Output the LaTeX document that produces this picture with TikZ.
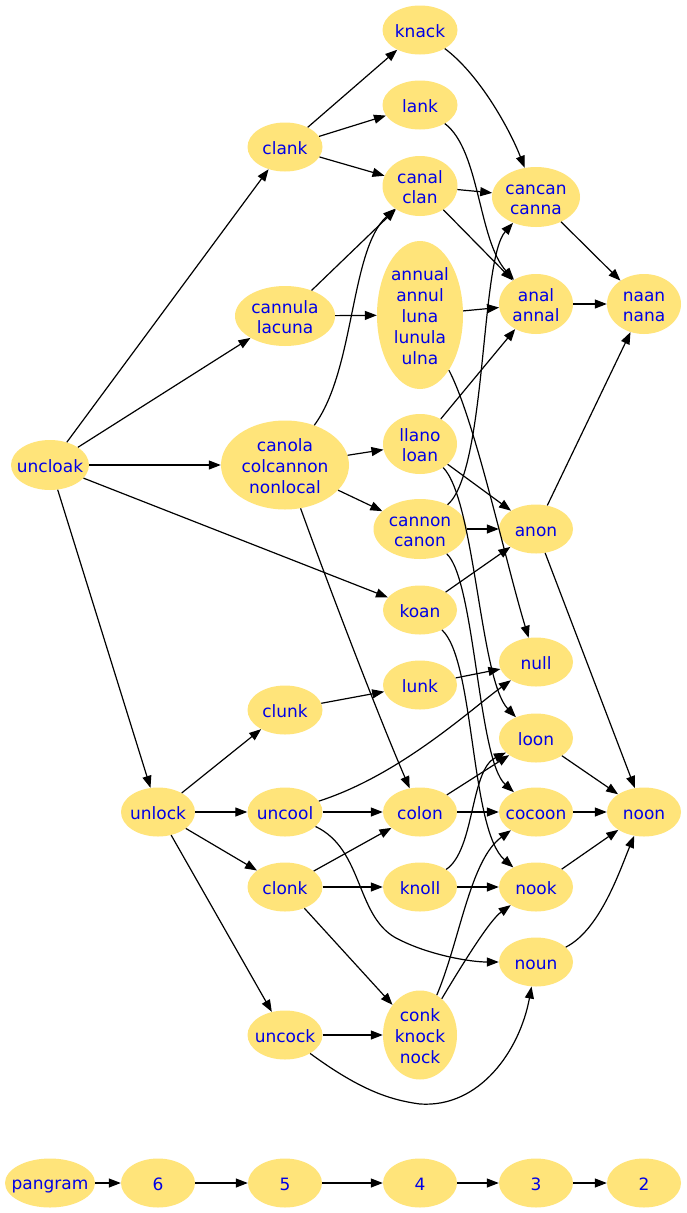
\documentclass[tikz,border=0pt]{standalone}
\usepackage{fontspec}
\setmainfont{DejaVu Sans}
\usetikzlibrary{shapes.geometric,arrows.meta}
\definecolor{nodefill}{RGB}{255,228,122}
\definecolor{nodetext}{RGB}{0,0,230}
\newcommand\mystrut{\rule[-2pt]{0pt}{19pt}}
\newcommand\wn[6]{%
  \node[blob,minimum width=#4pt,minimum height=#5pt] (#1) at (#2,#3) {};
  \node[txt] (#1-t) at (#1.center) {\mystrut#6\mystrut};}
\begin{document}
\begin{tikzpicture}[x=1pt,y=-1pt,
  blob/.style={ellipse,fill=nodefill,draw=none,inner sep=0pt},
  txt/.style={text=nodetext,font=\fontsize{17}{20.8}\selectfont,align=center,inner sep=0pt},
  edge/.style={draw=black,line width=1.2pt,-{Triangle[length=12pt,width=9pt]}}]
\useasboundingbox (0,0) rectangle (687,1213);
\fill[white] (0,0) rectangle (687,1213);
\wn{knack}{420}{30}{75}{49}{knack}
\wn{lank}{420}{105}{75}{49}{lank}
\wn{clank}{285}{147}{75}{49}{clank}
\wn{canal}{420}{186}{75}{60}{canal\\clan}
\wn{cancan}{536}{197}{88}{60}{cancan\\canna}
\wn{annual}{420}{315}{86}{148}{annual\\annul\\luna\\lunula\\ulna}
\wn{cannula}{285}{316}{100}{60}{cannula\\lacuna}
\wn{anal}{536}{304}{74}{60}{anal\\annal}
\wn{naan}{644}{304}{74}{60}{naan\\nana}
\wn{uncloak}{50}{465}{78}{50}{uncloak}
\wn{canola}{285}{465}{128}{89}{canola\\colcannon\\nonlocal}
\wn{llano}{420}{444}{74}{60}{llano\\loan}
\wn{cannon}{420}{529}{93}{60}{cannon\\canon}
\wn{anon}{536}{529}{74}{49}{anon}
\wn{koan}{420}{610}{74}{49}{koan}
\wn{null}{536}{662}{74}{49}{null}
\wn{lunk}{420}{685}{74}{49}{lunk}
\wn{clunk}{285}{710}{75}{49}{clunk}
\wn{loon}{536}{738}{74}{49}{loon}
\wn{unlock}{158}{812}{74}{49}{unlock}
\wn{uncool}{285}{812}{75}{49}{uncool}
\wn{colon}{420}{812}{74}{49}{colon}
\wn{cocoon}{536}{812}{74}{49}{cocoon}
\wn{noon}{644}{812}{74}{49}{noon}
\wn{clonk}{285}{887}{75}{49}{clonk}
\wn{knoll}{420}{887}{74}{49}{knoll}
\wn{nook}{536}{887}{74}{49}{nook}
\wn{noun}{536}{962}{74}{49}{noun}
\wn{uncock}{285}{1035}{75}{49}{uncock}
\wn{conk}{420}{1035}{74}{89}{conk\\knock\\nock}
\wn{pangram}{50}{1183}{90}{49}{pangram}
\wn{six}{158}{1183}{74}{49}{6}
\wn{five}{285}{1183}{74}{49}{5}
\wn{four}{420}{1183}{74}{49}{4}
\wn{three}{536}{1183}{74}{49}{3}
\wn{two}{644}{1183}{74}{49}{2}

\draw[edge] (uncloak) -- (clank);
\draw[edge] (uncloak) -- (cannula);
\draw[edge] (uncloak) -- (canola);
\draw[edge] (uncloak) -- (koan);
\draw[edge] (uncloak) -- (unlock);
\draw[edge] (clank) -- (knack);
\draw[edge] (clank) -- (lank);
\draw[edge] (clank) -- (canal);
\draw[edge] (knack) .. controls (480,75) and (510,130) .. (cancan);
\draw[edge] (lank) .. controls (480,150) and (478,240) .. (anal);
\draw[edge] (canal) -- (cancan);
\draw[edge] (canal) -- (anal);
\draw[edge] (cannula) -- (canal);
\draw[edge] (cannula) -- (annual);
\draw[edge] (canola) .. controls (355,370) and (350,250) .. (canal);
\draw[edge] (canola) -- (llano);
\draw[edge] (canola) -- (cannon);
\draw[edge] (canola) .. controls (330,590) and (380,720) .. (colon);
\draw[edge] (annual) -- (anal);
\draw[edge] (annual) .. controls (475,420) and (505,560) .. (null);
\draw[edge] (cancan) -- (naan);
\draw[edge] (anal) -- (naan);
\draw[edge] (llano) -- (anal);
\draw[edge] (llano) -- (anon);
\draw[edge] (llano) .. controls (475,500) and (480,680) .. (loon);
\draw[edge] (cannon) .. controls (487,470) and (480,260) .. (cancan);
\draw[edge] (cannon) -- (anon);
\draw[edge] (cannon) .. controls (475,580) and (478,760) .. (cocoon);
\draw[edge] (koan) -- (anon);
\draw[edge] (koan) .. controls (475,660) and (470,830) .. (nook);
\draw[edge] (anon) -- (naan);
\draw[edge] (anon) -- (noon);
\draw[edge] (lunk) -- (null);
\draw[edge] (clunk) -- (lunk);
\draw[edge] (unlock) -- (clunk);
\draw[edge] (unlock) -- (uncool);
\draw[edge] (unlock) -- (clonk);
\draw[edge] (unlock) -- (uncock);
\draw[edge] (uncool) .. controls (400,775) and (470,710) .. (null);
\draw[edge] (uncool) -- (colon);
\draw[edge] (uncool) .. controls (365,850) and (355,920) .. (400,940) .. controls (430,955) and (470,962) .. (noun);
\draw[edge] (colon) -- (loon);
\draw[edge] (colon) -- (cocoon);
\draw[edge] (clonk) -- (colon);
\draw[edge] (clonk) -- (knoll);
\draw[edge] (clonk) -- (conk);
\draw[edge] (knoll) .. controls (475,850) and (470,770) .. (loon);
\draw[edge] (knoll) -- (nook);
\draw[edge] (conk) .. controls (460,940) and (470,860) .. (cocoon);
\draw[edge] (conk) .. controls (465,960) and (490,920) .. (nook);
\draw[edge] (uncock) -- (conk);
\draw[edge] (uncock) .. controls (360,1090) and (390,1100) .. (420,1104) .. controls (480,1108) and (520,1050) .. (noun);
\draw[edge] (loon) -- (noon);
\draw[edge] (cocoon) -- (noon);
\draw[edge] (nook) -- (noon);
\draw[edge] (noun) .. controls (600,930) and (620,870) .. (noon);
\draw[edge] (pangram) -- (six);
\draw[edge] (six) -- (five);
\draw[edge] (five) -- (four);
\draw[edge] (four) -- (three);
\draw[edge] (three) -- (two);
\end{tikzpicture}
\end{document}
